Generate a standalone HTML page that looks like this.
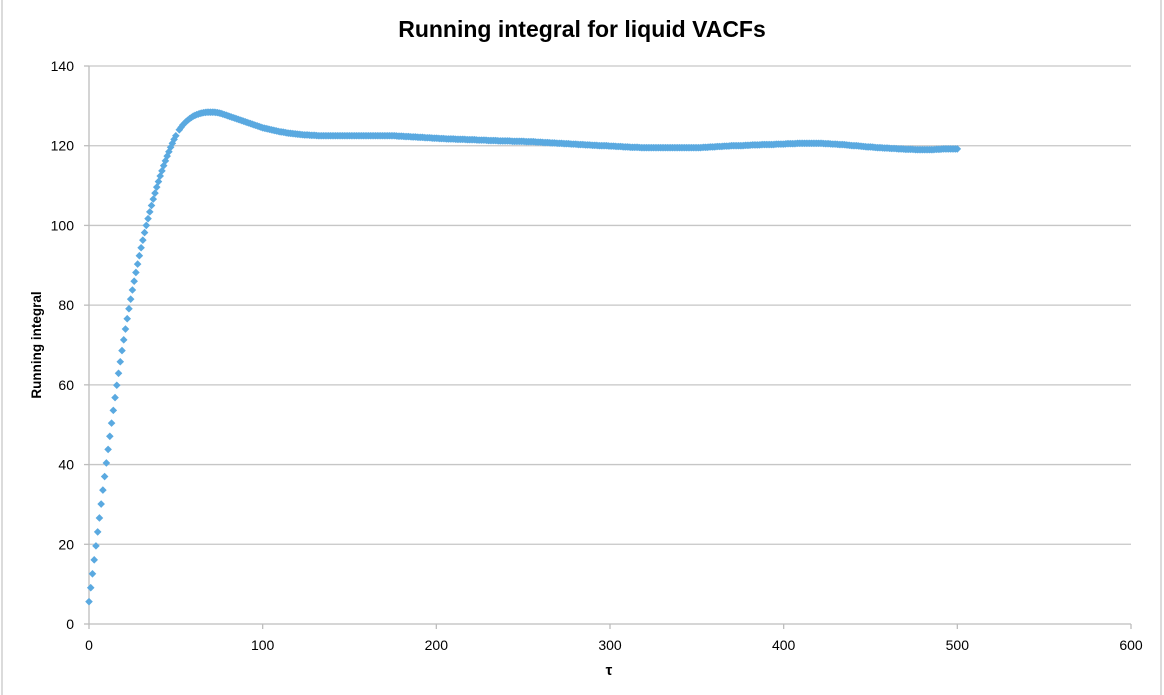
<!DOCTYPE html>
<html><head><meta charset="utf-8"><style>
html,body{margin:0;padding:0;background:#fff;}
svg{display:block;font-family:"Liberation Sans",sans-serif;}
</style></head><body>
<svg id="chart" width="1164" height="695" viewBox="0 0 1164 695">
<rect x="2" y="-2" width="1159" height="700" fill="#fff" stroke="#cfcfcf" stroke-width="1.5"/>
<text x="582" y="37" text-anchor="middle" font-size="23" font-weight="bold" fill="#000">Running integral for liquid VACFs</text>
<g id="grid"></g>
<g id="axes"></g>
<g id="marks"></g>
<text transform="translate(41,345) rotate(-90)" text-anchor="middle" font-size="13.5" font-weight="bold">Running integral</text>
<text x="609" y="675" text-anchor="middle" font-size="15" font-weight="bold">τ</text>
</svg>
<script>
const xTicks = [0,100,200,300,400,500,600];
const yTicks = [0,20,40,60,80,100,120,140];
// tau 0..50, step 1
const earlyValues = [5.6,9.1,12.6,16.1,19.6,23.1,26.6,30.1,33.6,37.0,40.4,43.8,47.1,50.4,53.6,56.8,59.9,62.9,65.8,68.6,71.3,74.0,76.6,79.1,81.5,83.8,86.0,88.2,90.3,92.4,94.4,96.3,98.2,100.0,101.7,103.4,105.0,106.6,108.1,109.6,111.0,112.4,113.7,115.0,116.2,117.4,118.5,119.6,120.6,121.6,122.5];
// tau 52..500, step 2
const lateValues = [
124.0,125.2,126.1,126.8,127.4,127.8,128.1,128.3,128.4,128.4,128.4,128.3,128.1,127.8,127.5,127.2,126.9,126.6,126.3,126.0,125.7,125.4,125.1,124.8,124.5,
124.3,124.1,123.9,123.7,123.5,123.4,123.2,123.1,123.0,122.9,122.8,122.7,122.7,122.6,122.6,
122.5,122.5,122.5,122.5,122.5,122.5,122.5,122.5,122.5,122.5,122.5,122.5,122.5,122.5,122.5,122.5,122.5,122.5,122.5,122.5,122.5,122.5,
122.5,122.4,122.4,122.3,122.3,122.2,122.2,122.1,122.1,122.0,122.0,121.9,121.9,121.8,121.8,121.7,121.7,121.7,
121.6,121.6,121.6,121.5,121.5,121.5,121.4,121.4,121.4,121.3,121.3,121.3,121.2,121.2,121.2,121.2,121.1,121.1,121.1,121.1,121.0,
121.0,121.0,120.9,120.9,120.8,120.8,120.7,120.7,120.6,120.6,120.5,120.5,120.4,120.4,120.3,120.3,120.2,120.2,120.1,120.1,120.0,120.0,
120.0,119.9,119.9,119.8,119.8,119.7,119.7,119.6,119.6,119.6,119.5,119.5,119.5,119.5,119.5,119.5,119.5,119.5,119.5,119.5,119.5,119.5,119.5,119.5,119.5,119.5,119.5,119.5,119.6,119.6,119.7,119.7,
119.8,119.8,119.9,119.9,120.0,120.0,120.0,120.0,120.1,120.1,120.2,120.2,120.2,120.3,120.3,120.3,120.3,120.4,120.4,120.4,120.5,120.5,120.5,120.6,120.6,120.6,120.6,120.6,120.6,120.6,
120.6,120.5,120.5,120.4,120.4,120.3,120.3,120.2,120.1,120.0,120.0,119.9,119.8,119.7,119.7,119.6,119.5,119.5,119.4,119.4,119.3,119.3,119.2,119.2,119.1,119.1,119.1,119.0,119.0,119.0,119.0,119.0,119.0,119.1,119.1,119.2,119.2,119.2,119.2,119.2];

const NS = 'http://www.w3.org/2000/svg';
const L = 89, R = 1131, T = 66, B = 624;
const xScale = v => L + (v - 0) / 600 * (R - L);
const yScale = v => B - (v - 0) / 140 * (B - T);

const grid = document.getElementById('grid');
const axes = document.getElementById('axes');
const marks = document.getElementById('marks');
function mk(tag, attrs, parent){ const e = document.createElementNS(NS, tag); for (const k in attrs) e.setAttribute(k, attrs[k]); parent.appendChild(e); return e; }

yTicks.forEach(v => {
  const y = yScale(v);
  if (v > 0) {
    const g = mk('line', {x1:L, x2:R, y1:y, y2:y, stroke:'#c6c6c6', 'stroke-width':1.3}, grid);
    
    
  }
  const t = mk('line', {x1:L-5, x2:L, y1:y, y2:y, stroke:'#bdbdbd', 'stroke-width':1.3}, axes);
  
  
  const lb = mk('text', {x:74, y:y+5, 'text-anchor':'end', 'font-size':14, fill:'#000'}, axes);
  lb.textContent = v;
  
  
});
const yAx = mk('line', {x1:L, x2:L, y1:T, y2:B, stroke:'#bdbdbd', 'stroke-width':1.3}, axes);


const xAx = mk('line', {x1:L, x2:R, y1:B, y2:B, stroke:'#bdbdbd', 'stroke-width':1.3}, axes);


xTicks.forEach(v => {
  const x = xScale(v);
  const t = mk('line', {x1:x, x2:x, y1:B, y2:B+5, stroke:'#bdbdbd', 'stroke-width':1.3}, axes);
  
  
  const lb = mk('text', {x:x, y:650, 'text-anchor':'middle', 'font-size':14, fill:'#000'}, axes);
  lb.textContent = v;
  
  
});

function diamond(tau, val){
  const x = xScale(tau), y = yScale(val), s = 3.8;
  const p = mk('polygon', {points:`${x},${y-s} ${x+s},${y} ${x},${y+s} ${x-s},${y}`, fill:'#5aa9e0'}, marks);
  
  
}
earlyValues.forEach((v, i) => diamond(i, v));
lateValues.forEach((v, i) => {
  diamond(52 + 2*i, v);
  if (i < lateValues.length - 1) diamond(53 + 2*i, (v + lateValues[i+1]) / 2);
});
</script>
</body></html>
